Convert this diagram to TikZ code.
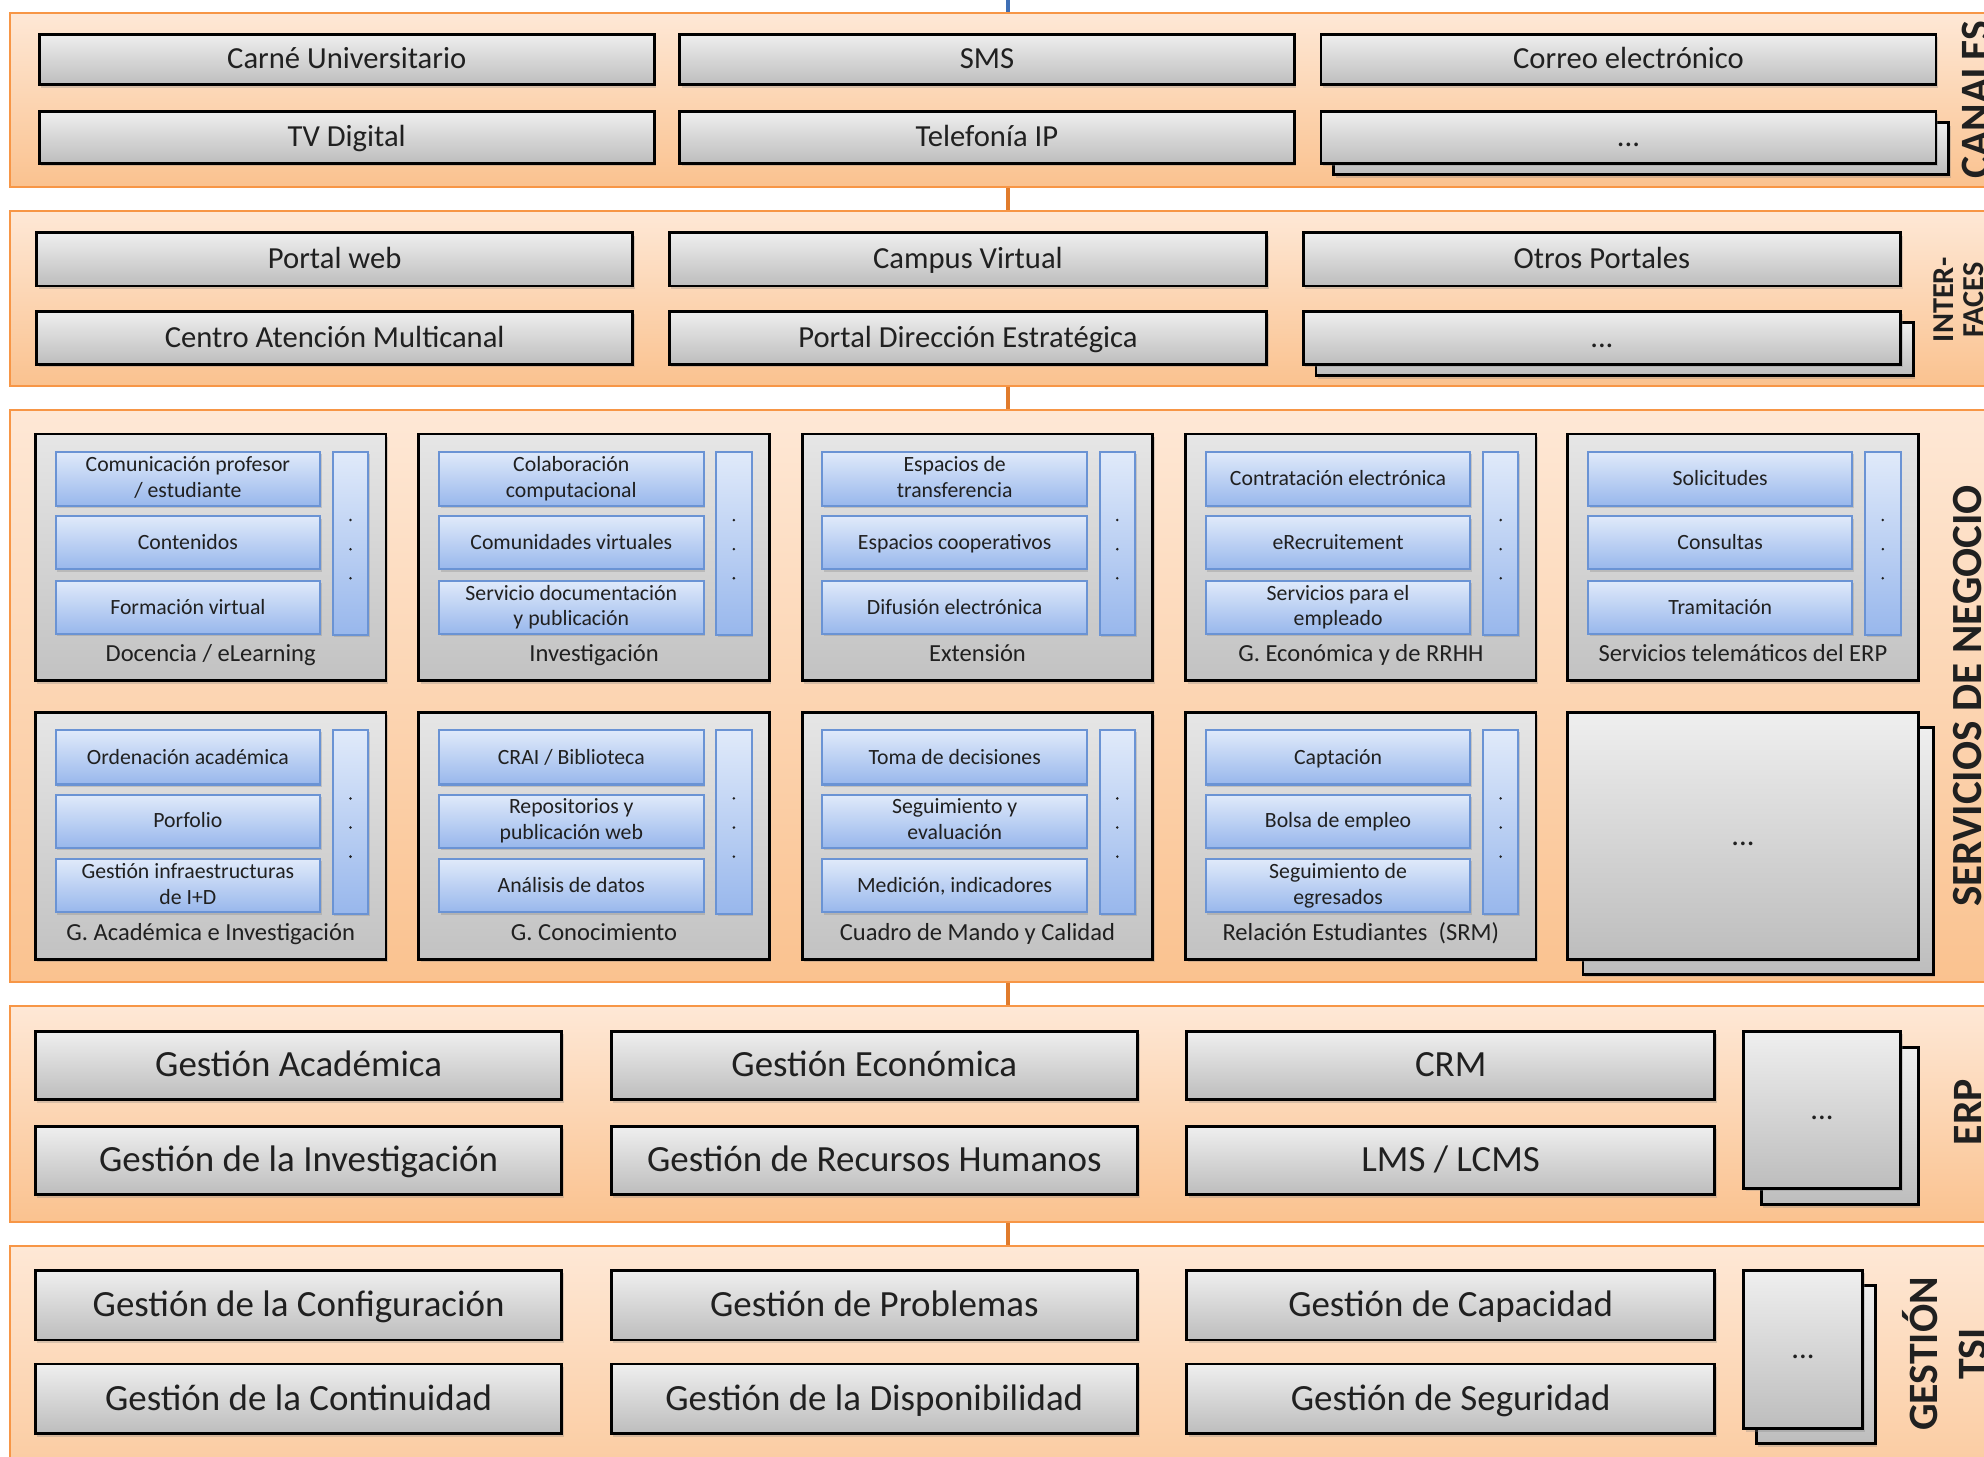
\documentclass[tikz,border=0pt]{standalone}
\usepackage{fontspec}
\setmainfont{Carlito}
\usetikzlibrary{shadows}
\definecolor{bandline}{HTML}{F79646}
\definecolor{bandtop}{HTML}{FEE8D6}
\definecolor{bandbot}{HTML}{FAC28F}
\definecolor{graytop}{HTML}{EFEFEF}
\definecolor{graybot}{HTML}{BDBDBD}
\definecolor{grptop}{HTML}{E6E6E6}
\definecolor{grpbot}{HTML}{C2C2C2}
\definecolor{bluetop}{HTML}{E0EAFA}
\definecolor{bluebot}{HTML}{98B7EC}
\definecolor{blueline}{HTML}{6A93D4}
\definecolor{connblue}{HTML}{3F6FB5}
\definecolor{connorange}{HTML}{E07B2C}
\definecolor{txt}{HTML}{202020}
\newcommand\mystrut{\rule[-0.18em]{0pt}{0.98em}}
\newcommand\mybox[7]{\node[#6, minimum width={((#4)-(#2))*0.5pt}, minimum height={((#5)-(#3))*0.5pt}] (#1) at ({((#2)+(#4))/2},{((#3)+(#5))/2}) {#7};}
\newcommand\grp[7]{%
 \mybox{#1}{#2}{#3}{#2+277}{#3+195}{grpbox}{}
 \node[grplbl] (#1-l) at ({#2+138.5},{#3+174}) {#4};
 \mybox{#1-a}{#2+16}{#3+14}{#2+225}{#3+57}{bbox}{#5}
 \mybox{#1-b}{#2+16}{#3+65}{#2+225}{#3+107}{bbox}{#6}
 \mybox{#1-c}{#2+16}{#3+116}{#2+225}{#3+158}{bbox}{#7}
 \mybox{#1-bar}{#2+235}{#3+14}{#2+263}{#3+159}{barbox}{}
 \node[dotn] (#1-d1) at ({#2+249},{#3+68}) {};
 \node[dotn] (#1-d2) at ({#2+249},{#3+91}) {};
 \node[dotn] (#1-d3) at ({#2+249},{#3+114}) {};
}
\tikzset{
 struts/.style={execute at begin node={\mystrut}, execute at end node={\mystrut}},
 band/.style={draw=bandline, line width=0.7pt, top color=bandtop, bottom color=bandbot, inner sep=0pt},
 gbox/.style={draw=black, line width=1.1pt, top color=graytop, bottom color=graybot, inner sep=0pt, text=txt, struts,
   font=\fontsize{12.1}{14}\selectfont, drop shadow={shadow xshift=0.8pt, shadow yshift=-1.2pt, opacity=0.3}},
 ebox/.style={gbox, font=\fontsize{14.6}{17}\selectfont},
 grpbox/.style={draw=black, line width=1.1pt, top color=grptop, bottom color=grpbot, inner sep=0pt,
   drop shadow={shadow xshift=0.8pt, shadow yshift=-1.2pt, opacity=0.3}},
 barbox/.style={draw=blueline, line width=0.8pt, top color=bluetop, bottom color=bluebot, inner sep=0pt,
   drop shadow={shadow xshift=0.6pt, shadow yshift=-0.9pt, opacity=0.3}},
 bbox/.style={barbox, text=txt, struts, align=center, font=\fontsize{8.6}{10.2}\selectfont},
 grplbl/.style={inner sep=0pt, text=txt, struts, font=\fontsize{9.7}{11.5}\selectfont},
 dotn/.style={circle, fill=txt, inner sep=0pt, minimum size=1.1pt},
 lbl/.style={inner sep=0pt, text=txt, rotate=90, align=center, font=\bfseries\fontsize{16.5}{19.5}\selectfont},
 lblbig/.style={lbl, font=\bfseries\fontsize{17}{20}\selectfont},
 lblsmall/.style={lbl, font=\bfseries\fontsize{12}{11.8}\selectfont},
 bconn/.style={draw=connblue, line width=1.6pt},
 oconn/.style={draw=connorange, line width=1.6pt},
}
\begin{document}
\begin{tikzpicture}[x=0.5pt, y=-0.5pt]
\useasboundingbox (0,0) rectangle (1568,1151);
\clip (0,0) rectangle (1568,1151);
\fill[white] (0,0) rectangle (1568,1151);
% bands and connectors
\coordinate (cx) at (797,0);
\mybox{b1}{8}{10}{1620}{148}{band}{}
\mybox{b2}{8}{167}{1620}{305}{band}{}
\mybox{b3}{8}{324}{1620}{776}{band}{}
\mybox{b4}{8}{795}{1620}{966}{band}{}
\mybox{b5}{8}{985}{1620}{1220}{band}{}
\draw[bconn] (cx) -- (b1.north -| cx);
\draw[oconn] (b1.south -| cx) -- (b2.north -| cx);
\draw[oconn] (b2.south -| cx) -- (b3.north -| cx);
\draw[oconn] (b3.south -| cx) -- (b4.north -| cx);
\draw[oconn] (b4.south -| cx) -- (b5.north -| cx);
% CANALES
\mybox{c1}{31}{27}{517}{67}{gbox}{Carné Universitario}
\mybox{c2}{537}{27}{1023}{67}{gbox}{SMS}
\mybox{c3}{1044}{27}{1530}{67}{gbox}{Correo electrónico}
\mybox{c4}{31}{88}{517}{129}{gbox}{TV Digital}
\mybox{c5}{537}{88}{1023}{129}{gbox}{Telefonía IP}
\mybox{c6s}{1054}{97}{1540}{138}{gbox}{}
\mybox{c6}{1044}{88}{1530}{129}{gbox}{...}
\node[lbl] (b1-l) at (1562,79) {CANALES};
% INTERFACES
\mybox{i1}{29}{184}{500}{226}{gbox}{Portal web}
\mybox{i2}{529}{184}{1001}{226}{gbox}{Campus Virtual}
\mybox{i3}{1030}{184}{1502}{226}{gbox}{Otros Portales}
\mybox{i4}{29}{246}{500}{288}{gbox}{Centro Atención Multicanal}
\mybox{i5}{529}{246}{1001}{288}{gbox}{Portal Dirección Estratégica}
\mybox{i6s}{1040}{255}{1512}{297}{gbox}{}
\mybox{i6}{1030}{246}{1502}{288}{gbox}{...}
\node[lblsmall] (b2-l) at (1548,237) {INTER-\\FACES};
% SERVICIOS DE NEGOCIO
\grp{g1}{28}{343}{Docencia / eLearning}{Comunicación profesor\\/ estudiante}{Contenidos}{Formación virtual}
\grp{g2}{331}{343}{Investigación}{Colaboración\\computacional}{Comunidades virtuales}{Servicio documentación\\y publicación}
\grp{g3}{634}{343}{Extensión}{Espacios de\\transferencia}{Espacios cooperativos}{Difusión electrónica}
\grp{g4}{937}{343}{G. Económica y de RRHH}{Contratación electrónica}{eRecruitement}{Servicios para el\\empleado}
\grp{g5}{1239}{343}{Servicios telemáticos del ERP}{Solicitudes}{Consultas}{Tramitación}
\grp{g6}{28}{563}{G. Académica e Investigación}{Ordenación académica}{Porfolio}{Gestión infraestructuras\\de I+D}
\grp{g7}{331}{563}{G. Conocimiento}{CRAI / Biblioteca}{Repositorios y\\publicación web}{Análisis de datos}
\grp{g8}{634}{563}{Cuadro de Mando y Calidad}{Toma de decisiones}{Seguimiento y\\evaluación}{Medición, indicadores}
\grp{g9}{937}{563}{Relación Estudiantes~~(SRM)}{Captación}{Bolsa de empleo}{Seguimiento de\\egresados}
\mybox{g10s}{1251}{575}{1528}{770}{gbox}{}
\mybox{g10}{1239}{563}{1516}{758}{gbox}{...}
\node[lblbig] (b3-l) at (1555,550) {SERVICIOS DE NEGOCIO};
% ERP
\mybox{e1}{28}{815}{444}{869}{ebox}{Gestión Académica}
\mybox{e2}{483}{815}{899}{869}{ebox}{Gestión Económica}
\mybox{e3}{938}{815}{1355}{869}{ebox}{CRM}
\mybox{e4}{28}{890}{444}{944}{ebox}{Gestión de la Investigación}
\mybox{e5}{483}{890}{899}{944}{ebox}{Gestión de Recursos Humanos}
\mybox{e6}{938}{890}{1355}{944}{ebox}{LMS / LCMS}
\mybox{e7s}{1392}{828}{1516}{952}{gbox}{}
\mybox{e7}{1378}{815}{1502}{939}{gbox}{...}
\node[lbl] (b4-l) at (1555,879) {ERP};
% GESTION TSI
\mybox{t1}{28}{1004}{444}{1059}{ebox}{Gestión de la Configuración}
\mybox{t2}{483}{1004}{899}{1059}{ebox}{Gestión de Problemas}
\mybox{t3}{938}{1004}{1355}{1059}{ebox}{Gestión de Capacidad}
\mybox{t4}{28}{1078}{444}{1133}{ebox}{Gestión de la Continuidad}
\mybox{t5}{483}{1078}{899}{1133}{ebox}{Gestión de la Disponibilidad}
\mybox{t6}{938}{1078}{1355}{1133}{ebox}{Gestión de Seguridad}
\mybox{t7s}{1388}{1016}{1482}{1141}{gbox}{}
\mybox{t7}{1378}{1004}{1472}{1129}{gbox}{...}
\node[lbl] (b5-l) at (1537,1070) {GESTIÓN\\TSI};
\end{tikzpicture}
\end{document}
